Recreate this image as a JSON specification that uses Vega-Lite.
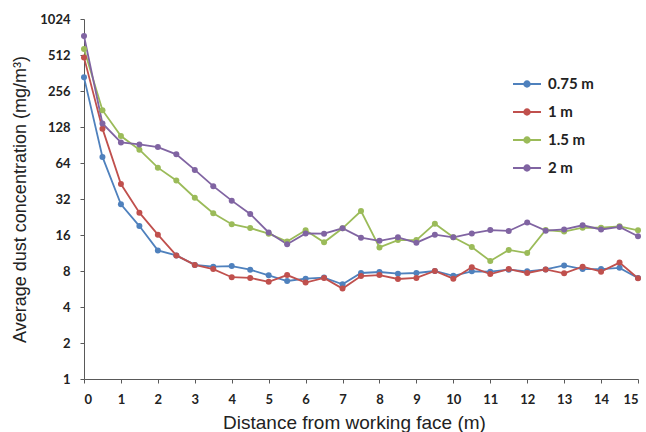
{
  "$schema": "https://vega.github.io/schema/vega-lite/v6.json",
  "width": 554,
  "height": 360,
  "autosize": "none",
  "padding": {"left": 84, "top": 19, "right": 8, "bottom": 53},
  "background": "white",
  "config": {"view": {"stroke": null}},
  "data": {"values": [
    {"d":0,"s":"0.75 m","c":333},{"d":0,"s":"1 m","c":489},{"d":0,"s":"1.5 m","c":575},{"d":0,"s":"2 m","c":739},
    {"d":0.5,"s":"0.75 m","c":72},{"d":0.5,"s":"1 m","c":124},{"d":0.5,"s":"1.5 m","c":177},{"d":0.5,"s":"2 m","c":137},
    {"d":1,"s":"0.75 m","c":28.9},{"d":1,"s":"1 m","c":42.7},{"d":1,"s":"1.5 m","c":107.6},{"d":1,"s":"2 m","c":95},
    {"d":1.5,"s":"0.75 m","c":19.0},{"d":1.5,"s":"1 m","c":24.6},{"d":1.5,"s":"1.5 m","c":82.7},{"d":1.5,"s":"2 m","c":91.6},
    {"d":2,"s":"0.75 m","c":11.9},{"d":2,"s":"1 m","c":16.1},{"d":2,"s":"1.5 m","c":58.5},{"d":2,"s":"2 m","c":87},
    {"d":2.5,"s":"0.75 m","c":10.8},{"d":2.5,"s":"1 m","c":10.8},{"d":2.5,"s":"1.5 m","c":45.7},{"d":2.5,"s":"2 m","c":75.6},
    {"d":3,"s":"0.75 m","c":9.0},{"d":3,"s":"1 m","c":9.0},{"d":3,"s":"1.5 m","c":32.8},{"d":3,"s":"2 m","c":56},
    {"d":3.5,"s":"0.75 m","c":8.7},{"d":3.5,"s":"1 m","c":8.3},{"d":3.5,"s":"1.5 m","c":24.3},{"d":3.5,"s":"2 m","c":41},
    {"d":4,"s":"0.75 m","c":8.8},{"d":4,"s":"1 m","c":7.1},{"d":4,"s":"1.5 m","c":19.7},{"d":4,"s":"2 m","c":31},
    {"d":4.5,"s":"0.75 m","c":8.2},{"d":4.5,"s":"1 m","c":7.0},{"d":4.5,"s":"1.5 m","c":18.3},{"d":4.5,"s":"2 m","c":24},
    {"d":5,"s":"0.75 m","c":7.36},{"d":5,"s":"1 m","c":6.5},{"d":5,"s":"1.5 m","c":16.4},{"d":5,"s":"2 m","c":16.8},
    {"d":5.5,"s":"0.75 m","c":6.6},{"d":5.5,"s":"1 m","c":7.4},{"d":5.5,"s":"1.5 m","c":14.1},{"d":5.5,"s":"2 m","c":13.4},
    {"d":6,"s":"0.75 m","c":6.9},{"d":6,"s":"1 m","c":6.4},{"d":6,"s":"1.5 m","c":17.5},{"d":6,"s":"2 m","c":16.5},
    {"d":6.5,"s":"0.75 m","c":7.05},{"d":6.5,"s":"1 m","c":7.0},{"d":6.5,"s":"1.5 m","c":13.9},{"d":6.5,"s":"2 m","c":16.4},
    {"d":7,"s":"0.75 m","c":6.2},{"d":7,"s":"1 m","c":5.7},{"d":7,"s":"1.5 m","c":18.2},{"d":7,"s":"2 m","c":18.2},
    {"d":7.5,"s":"0.75 m","c":7.7},{"d":7.5,"s":"1 m","c":7.26},{"d":7.5,"s":"1.5 m","c":25.4},{"d":7.5,"s":"2 m","c":15.2},
    {"d":8,"s":"0.75 m","c":7.85},{"d":8,"s":"1 m","c":7.4},{"d":8,"s":"1.5 m","c":12.6},{"d":8,"s":"2 m","c":14.3},
    {"d":8.5,"s":"0.75 m","c":7.6},{"d":8.5,"s":"1 m","c":6.86},{"d":8.5,"s":"1.5 m","c":14.5},{"d":8.5,"s":"2 m","c":15.3},
    {"d":9,"s":"0.75 m","c":7.7},{"d":9,"s":"1 m","c":7.0},{"d":9,"s":"1.5 m","c":14.5},{"d":9,"s":"2 m","c":13.8},
    {"d":9.5,"s":"0.75 m","c":8.0},{"d":9.5,"s":"1 m","c":8.0},{"d":9.5,"s":"1.5 m","c":19.9},{"d":9.5,"s":"2 m","c":16.1},
    {"d":10,"s":"0.75 m","c":7.3},{"d":10,"s":"1 m","c":6.9},{"d":10,"s":"1.5 m","c":15.3},{"d":10,"s":"2 m","c":15.3},
    {"d":10.5,"s":"0.75 m","c":7.95},{"d":10.5,"s":"1 m","c":8.6},{"d":10.5,"s":"1.5 m","c":12.7},{"d":10.5,"s":"2 m","c":16.5},
    {"d":11,"s":"0.75 m","c":7.9},{"d":11,"s":"1 m","c":7.55},{"d":11,"s":"1.5 m","c":9.7},{"d":11,"s":"2 m","c":17.6},
    {"d":11.5,"s":"0.75 m","c":8.2},{"d":11.5,"s":"1 m","c":8.3},{"d":11.5,"s":"1.5 m","c":12.0},{"d":11.5,"s":"2 m","c":17.3},
    {"d":12,"s":"0.75 m","c":7.95},{"d":12,"s":"1 m","c":7.7},{"d":12,"s":"1.5 m","c":11.3},{"d":12,"s":"2 m","c":20.4},
    {"d":12.5,"s":"0.75 m","c":8.25},{"d":12.5,"s":"1 m","c":8.25},{"d":12.5,"s":"1.5 m","c":17.6},{"d":12.5,"s":"2 m","c":17.4},
    {"d":13,"s":"0.75 m","c":8.9},{"d":13,"s":"1 m","c":7.65},{"d":13,"s":"1.5 m","c":17.1},{"d":13,"s":"2 m","c":17.8},
    {"d":13.5,"s":"0.75 m","c":8.3},{"d":13.5,"s":"1 m","c":8.7},{"d":13.5,"s":"1.5 m","c":18.4},{"d":13.5,"s":"2 m","c":19.3},
    {"d":14,"s":"0.75 m","c":8.3},{"d":14,"s":"1 m","c":7.9},{"d":14,"s":"1.5 m","c":18.4},{"d":14,"s":"2 m","c":17.8},
    {"d":14.5,"s":"0.75 m","c":8.5},{"d":14.5,"s":"1 m","c":9.4},{"d":14.5,"s":"1.5 m","c":18.9},{"d":14.5,"s":"2 m","c":18.7},
    {"d":15,"s":"0.75 m","c":7.0},{"d":15,"s":"1 m","c":6.95},{"d":15,"s":"1.5 m","c":17.5},{"d":15,"s":"2 m","c":15.6}
  ]},
  "mark": {"type": "line", "strokeWidth": 1.8, "point": {"filled": true, "size": 36, "opacity": 1}},
  "encoding": {
    "x": {
      "field": "d", "type": "quantitative",
      "scale": {"domain": [0, 15], "nice": false, "zero": false},
      "axis": {
        "values": [0,1,2,3,4,5,6,7,8,9,10,11,12,13,14,15],
        "grid": false, "domainColor": "#595959", "tickColor": "#595959", "tickSize": 4,
        "labelFont": "Lato", "labelFontWeight": "bold", "labelFontSize": 13, "labelColor": "#222222", "labelPadding": 10,
        "title": "Distance from working face (m)", "titleFont": "Liberation Sans", "titleFontWeight": "normal",
        "titleFontSize": 19, "titleColor": "#222222",
        "titleX": 270, "titleY": 49, "titleBaseline": "alphabetic", "titleAlign": "center"
      }
    },
    "y": {
      "field": "c", "type": "quantitative",
      "scale": {"type": "log", "base": 2, "domain": [1, 1024], "nice": false},
      "axis": {
        "values": [1,2,4,8,16,32,64,128,256,512,1024], "format": "d",
        "grid": false, "domainColor": "#595959", "tickColor": "#595959", "tickSize": 4,
        "labelFont": "Lato", "labelFontWeight": "bold", "labelFontSize": 13, "labelColor": "#222222", "labelPadding": 10,
        "title": "Average dust concentration (mg/m³)", "titleFont": "Liberation Sans", "titleFontWeight": "normal",
        "titleFontSize": 18, "titleColor": "#222222", "titlePadding": 10
      }
    },
    "color": {
      "field": "s", "type": "nominal",
      "scale": {"domain": ["0.75 m", "1 m", "1.5 m", "2 m"], "range": ["#4F81BD", "#C0504D", "#9BBB59", "#8064A2"]},
      "legend": {
        "title": null, "orient": "none", "legendX": 428, "legendY": 50,
        "symbolType": "M-1,0H1M-0.2,0A0.2,0.2 0 1,0 0.2,0A0.2,0.2 0 1,0 -0.2,0",
        "symbolSize": 784, "symbolStrokeWidth": 1.8, "rowPadding": 5,
        "labelFont": "Lato", "labelFontWeight": "bold", "labelFontSize": 15, "labelColor": "#222222", "labelOffset": 6
      }
    }
  }
}
